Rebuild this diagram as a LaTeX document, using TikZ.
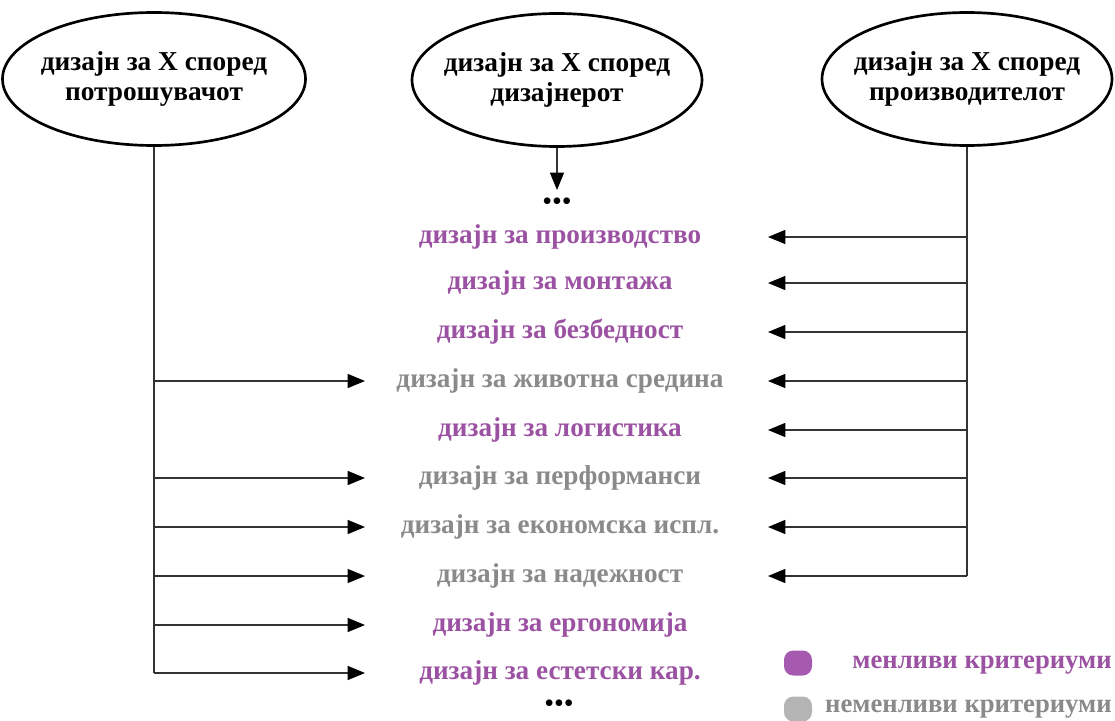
\documentclass[tikz,border=0pt]{standalone}
\usepackage{fontspec}
\setmainfont{Liberation Serif}
\usetikzlibrary{arrows.meta,shapes.geometric}
\definecolor{mpurple}{HTML}{9C52A2}
\definecolor{mgray}{HTML}{8A8A8A}
\definecolor{lpurple}{HTML}{A65AAF}
\definecolor{lgray}{HTML}{B4B4B4}
\tikzset{
  ellbox/.style={ellipse, draw, line width=2pt, minimum height=133*0.75pt, inner sep=0pt},
  elltext/.style={align=center, font=\fontsize{20.5}{23}\selectfont\bfseries, inner sep=0pt},
  item/.style={font=\fontsize{20.4}{23}\selectfont\bfseries, inner sep=0pt, anchor=center},
  var/.style={item, text=mpurple},
  fix/.style={item, text=mgray},
  legtext/.style={font=\fontsize{20}{23}\selectfont\bfseries, inner sep=0pt, anchor=east},
  dotsn/.style={font=\fontsize{21}{23}\selectfont, inner sep=0pt, text height=10pt, text depth=0pt},
  conn/.style={line width=1pt, draw=black!80},
  arr/.style={conn, -{Triangle[length=13pt,width=10.5pt,color=black]}},
  legbox/.style={rounded corners=7pt, minimum width=28*0.75pt, minimum height=25*0.75pt, inner sep=0pt},
}
\begin{document}
\begin{tikzpicture}[x=0.75pt,y=-0.75pt]
\path[use as bounding box] (0,0) rectangle (1115,721);
% ellipses
\node[ellbox, minimum width=303*0.75pt] (c) at (154,79) {};
\node[elltext] (ct) at (c.center) {дизајн за X според\\потрошувачот};
\node[ellbox, minimum width=290*0.75pt] (d) at (557,80) {};
\node[elltext] (dt) at (d.center) {дизајн за X според\\дизајнерот};
\node[ellbox, minimum width=290*0.75pt] (p) at (967,79) {};
\node[elltext] (pt) at (p.center) {дизајн за X според\\производителот};
% dots
\node[dotsn] (dots1) at (557,204) {•••};
\node[dotsn] (dots2) at (559,706) {•••};
% items
\node[var] (i1) at (560,237) {дизајн за производство};
\node[var] (i2) at (560,283) {дизајн за монтажа};
\node[var] (i3) at (560,332) {дизајн за безбедност};
\node[fix] (i4) at (560,381) {дизајн за животна средина};
\node[var] (i5) at (560,430) {дизајн за логистика};
\node[fix] (i6) at (560,478) {дизајн за перформанси};
\node[fix] (i7) at (560,527) {дизајн за економска испл.};
\node[fix] (i8) at (560,576) {дизајн за надежност};
\node[var] (i9) at (560,625) {дизајн за ергономија};
\node[var] (i10) at (560,673) {дизајн за естетски кар.};
% designer arrow
\coordinate (dend) at (557,190);
\draw[arr] (d.south) -- (dend);
% left trunk
\coordinate (lb) at (c.south |- i10);
\draw[conn] (c.south) -- (lb);
\foreach \i in {4,6,7,8,9,10}{
  \coordinate (le\i) at (365,0 |- i\i);
  \draw[arr] (c.south |- i\i) -- (le\i);
}
% right trunk
\coordinate (rb) at (p.south |- i8);
\draw[conn] (p.south) -- (rb);
\foreach \i in {1,2,3,4,5,6,7,8}{
  \coordinate (re\i) at (768,0 |- i\i);
  \draw[arr] (p.south |- i\i) -- (re\i);
}
% legend
\node[legbox, fill=lpurple] (lg1) at (798,663) {};
\node[legbox, fill=lgray] (lg2) at (798,709) {};
\node[legtext, text=mpurple] (lt1) at (1112,665) {менливи критериуми};
\node[legtext, text=mgray] (lt2) at (1112,709) {неменливи критериуми};
\end{tikzpicture}
\end{document}
